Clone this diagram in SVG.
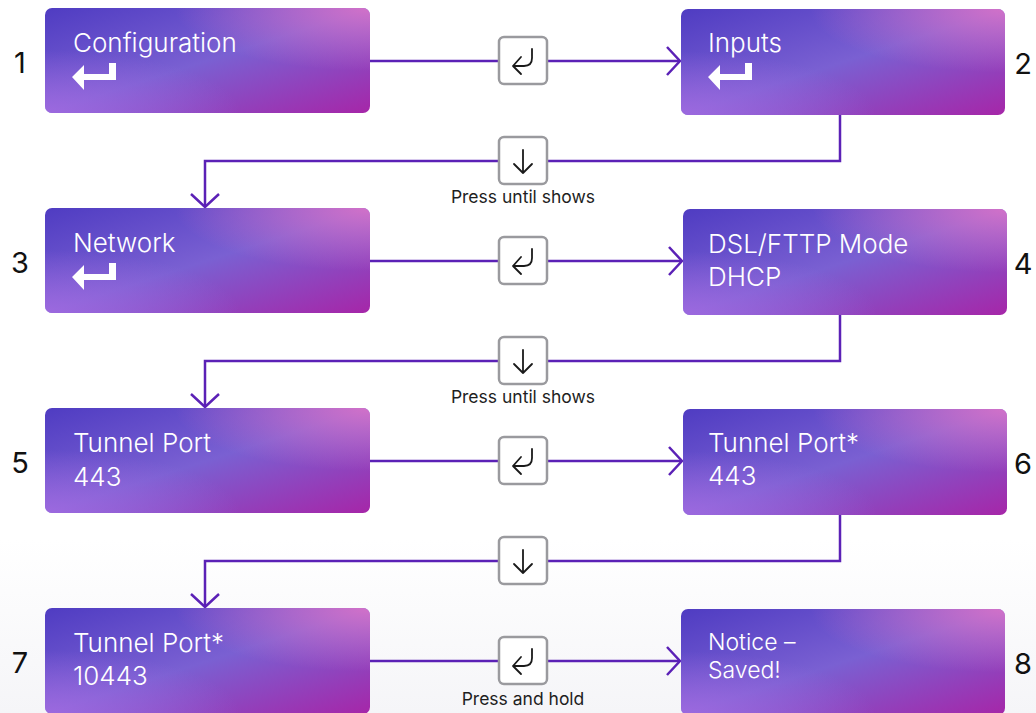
<svg xmlns="http://www.w3.org/2000/svg" width="1036" height="713" viewBox="0 0 1036 713">
  <defs>
    <linearGradient id="gBase" x1="0" y1="0" x2="1" y2="1">
      <stop offset="0" stop-color="#4f3cc2"/>
      <stop offset="0.5" stop-color="#7a60d2"/>
      <stop offset="1" stop-color="#a626a8"/>
    </linearGradient>
    <radialGradient id="gTR" cx="1" cy="0" r="0.6">
      <stop offset="0" stop-color="#d672c8" stop-opacity="0.95"/>
      <stop offset="1" stop-color="#d672c8" stop-opacity="0"/>
    </radialGradient>
    <radialGradient id="gBL" cx="0" cy="1" r="0.6">
      <stop offset="0" stop-color="#a06ae0" stop-opacity="0.9"/>
      <stop offset="1" stop-color="#a06ae0" stop-opacity="0"/>
    </radialGradient>
    <linearGradient id="gBg" x1="0" y1="0" x2="0" y2="1">
      <stop offset="0" stop-color="#ffffff"/>
      <stop offset="1" stop-color="#f5f5f8"/>
    </linearGradient>
    <marker id="chev" viewBox="-16 -16 19 32" markerWidth="19" markerHeight="32" refX="0" refY="0" markerUnits="userSpaceOnUse" orient="auto">
      <path d="M-13,-14 L0,0 L-13,14" fill="none" stroke="#5b21b6" stroke-width="2.5"/>
    </marker>
    <g id="enter">
      <path d="M72,77 L84,65 L84,74 L109,74 L109,63 L116,63 L116,80 L84,80 L84,90 Z" fill="#ffffff"/>
    </g>
    <g id="keyRet">
      <rect x="-24" y="-24" width="48" height="47" rx="5" fill="#ffffff" stroke="#9a9a9e" stroke-width="2.5"/>
      <path d="M9,-12 V-3 Q9,5 1,5 H-10 M-2,-4 L-10,5 L-2,13" fill="none" stroke="#1a1a1a" stroke-width="1.8" stroke-linecap="round" stroke-linejoin="round"/>
    </g>
    <g id="keyDown">
      <rect x="-24" y="-24" width="48" height="47" rx="5" fill="#ffffff" stroke="#9a9a9e" stroke-width="2.5"/>
      <path d="M0,-11 V12 M-9,3 L0,12 L9,3" fill="none" stroke="#1a1a1a" stroke-width="1.8" stroke-linecap="round" stroke-linejoin="round"/>
    </g>
  </defs>
  <style>
    .t { font-family: Inter, "Liberation Sans", sans-serif; font-size: 26px; font-weight: 300; fill: #ffffff; }
    .ts { font-family: Inter, "Liberation Sans", sans-serif; font-size: 23px; font-weight: 300; fill: #ffffff; }
    .num { font-family: Inter, "Liberation Sans", sans-serif; font-size: 29px; font-weight: 400; fill: #111111; text-anchor: middle; }
    .lbl { font-family: Inter, "Liberation Sans", sans-serif; font-size: 17.5px; font-weight: 400; fill: #1e1e1e; text-anchor: middle; }
    .ln { fill: none; stroke: #5b21b6; stroke-width: 2.5; }
  </style>
  <rect x="0" y="540" width="1036" height="173" fill="url(#gBg)"/>

  <g id="connectors">
    <path class="ln" d="M370,61 H680" marker-end="url(#chev)"/>
    <use href="#keyRet" x="523" y="61"/>
    <path class="ln" d="M840,115 V161 H205 V207" marker-end="url(#chev)"/>
    <use href="#keyDown" x="523" y="161"/>
    <text class="lbl" x="523" y="203">Press until shows</text>

    <path class="ln" d="M370,261 H682" marker-end="url(#chev)"/>
    <use href="#keyRet" x="523" y="261"/>
    <path class="ln" d="M840,315 V361 H205 V407" marker-end="url(#chev)"/>
    <use href="#keyDown" x="523" y="361"/>
    <text class="lbl" x="523" y="403">Press until shows</text>

    <path class="ln" d="M370,461 H682" marker-end="url(#chev)"/>
    <use href="#keyRet" x="523" y="461"/>
    <path class="ln" d="M840,515 V561 H205 V607" marker-end="url(#chev)"/>
    <use href="#keyDown" x="523" y="561"/>

    <path class="ln" d="M370,661 H680" marker-end="url(#chev)"/>
    <use href="#keyRet" x="523" y="661"/>
    <text class="lbl" x="523" y="705">Press and hold</text>
  </g>

  <g id="node1">
    <rect x="45" y="8" width="325" height="105" rx="7" fill="url(#gBase)"/>
    <rect x="45" y="8" width="325" height="105" rx="7" fill="url(#gTR)"/>
    <rect x="45" y="8" width="325" height="105" rx="7" fill="url(#gBL)"/>
    <text class="t" x="73" y="52">Configuration</text>
    <use href="#enter"/>
    <text class="num" x="20" y="73">1</text>
  </g>
  <g id="node2">
    <rect x="681" y="9" width="324" height="106" rx="7" fill="url(#gBase)"/>
    <rect x="681" y="9" width="324" height="106" rx="7" fill="url(#gTR)"/>
    <rect x="681" y="9" width="324" height="106" rx="7" fill="url(#gBL)"/>
    <text class="t" x="708" y="52">Inputs</text>
    <use href="#enter" x="636" y="0"/>
    <text class="num" x="1023" y="74">2</text>
  </g>
  <g id="node3">
    <rect x="45" y="208" width="325" height="105" rx="7" fill="url(#gBase)"/>
    <rect x="45" y="208" width="325" height="105" rx="7" fill="url(#gTR)"/>
    <rect x="45" y="208" width="325" height="105" rx="7" fill="url(#gBL)"/>
    <text class="t" x="73" y="252">Network</text>
    <use href="#enter" x="0" y="200"/>
    <text class="num" x="20" y="273">3</text>
  </g>
  <g id="node4">
    <rect x="683" y="209" width="324" height="106" rx="7" fill="url(#gBase)"/>
    <rect x="683" y="209" width="324" height="106" rx="7" fill="url(#gTR)"/>
    <rect x="683" y="209" width="324" height="106" rx="7" fill="url(#gBL)"/>
    <text class="t" x="708" y="253">DSL/FTTP Mode</text>
    <text class="t" x="708" y="286">DHCP</text>
    <text class="num" x="1023" y="274">4</text>
  </g>
  <g id="node5">
    <rect x="45" y="408" width="325" height="105" rx="7" fill="url(#gBase)"/>
    <rect x="45" y="408" width="325" height="105" rx="7" fill="url(#gTR)"/>
    <rect x="45" y="408" width="325" height="105" rx="7" fill="url(#gBL)"/>
    <text class="t" x="73" y="452">Tunnel Port</text>
    <text class="t" x="73" y="486">443</text>
    <text class="num" x="20" y="473">5</text>
  </g>
  <g id="node6">
    <rect x="683" y="409" width="324" height="106" rx="7" fill="url(#gBase)"/>
    <rect x="683" y="409" width="324" height="106" rx="7" fill="url(#gTR)"/>
    <rect x="683" y="409" width="324" height="106" rx="7" fill="url(#gBL)"/>
    <text class="t" x="708" y="452">Tunnel Port*</text>
    <text class="t" x="708" y="485">443</text>
    <text class="num" x="1023" y="474">6</text>
  </g>
  <g id="node7">
    <rect x="45" y="608" width="325" height="106" rx="7" fill="url(#gBase)"/>
    <rect x="45" y="608" width="325" height="106" rx="7" fill="url(#gTR)"/>
    <rect x="45" y="608" width="325" height="106" rx="7" fill="url(#gBL)"/>
    <text class="t" x="73" y="652">Tunnel Port*</text>
    <text class="t" x="73" y="685">10443</text>
    <text class="num" x="20" y="673">7</text>
  </g>
  <g id="node8">
    <rect x="681" y="609" width="324" height="106" rx="7" fill="url(#gBase)"/>
    <rect x="681" y="609" width="324" height="106" rx="7" fill="url(#gTR)"/>
    <rect x="681" y="609" width="324" height="106" rx="7" fill="url(#gBL)"/>
    <text class="ts" x="708" y="650">Notice –</text>
    <text class="ts" x="708" y="678">Saved!</text>
    <text class="num" x="1023" y="674">8</text>
  </g>
</svg>
